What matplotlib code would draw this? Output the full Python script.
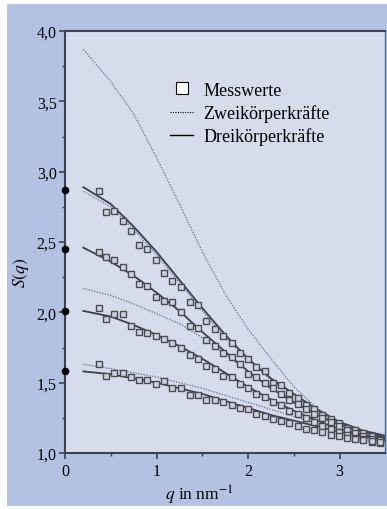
import matplotlib
matplotlib.use("Agg")
import matplotlib.pyplot as plt
from matplotlib.patches import Rectangle

plt.rcParams['font.family'] = ['Liberation Serif', 'DejaVu Serif']
plt.rcParams['mathtext.fontset'] = 'stix'

# measured points (q in nm^-1)
q_meas = [0.37, 0.45, 0.54, 0.63, 0.72, 0.81, 0.90, 0.99, 1.08, 1.17, 1.27, 1.36,
          1.45, 1.54, 1.64, 1.73, 1.82, 1.91, 2.00, 2.09, 2.18, 2.27, 2.36, 2.45,
          2.54, 2.63, 2.72, 2.81, 2.90, 2.99, 3.08, 3.17, 3.26, 3.35, 3.44]
s_meas_a = [2.86, 2.71, 2.72, 2.65, 2.58, 2.48, 2.45, 2.37, 2.28, 2.22, 2.18, 2.07,
            2.05, 1.94, 1.88, 1.83, 1.78, 1.71, 1.67, 1.61, 1.58, 1.50, 1.48, 1.43,
            1.39, 1.34, 1.31, 1.27, 1.24, 1.21, 1.18, 1.16, 1.14, 1.12, 1.10]
s_meas_b = [2.43, 2.39, 2.37, 2.32, 2.27, 2.20, 2.19, 2.11, 2.08, 2.07, 2.00, 1.90,
            1.89, 1.80, 1.76, 1.71, 1.68, 1.63, 1.56, 1.54, 1.50, 1.46, 1.42, 1.38,
            1.35, 1.31, 1.28, 1.25, 1.22, 1.19, 1.16, 1.14, 1.12, 1.10, 1.09]
s_meas_c = [2.03, 1.95, 1.99, 1.99, 1.90, 1.86, 1.85, 1.83, 1.81, 1.78, 1.75, 1.70,
            1.67, 1.62, 1.60, 1.55, 1.54, 1.49, 1.46, 1.42, 1.40, 1.36, 1.34, 1.30,
            1.28, 1.25, 1.22, 1.19, 1.17, 1.15, 1.13, 1.11, 1.10, 1.08, 1.07]
s_meas_d = [1.63, 1.55, 1.57, 1.57, 1.54, 1.52, 1.52, 1.49, 1.51, 1.46, 1.46, 1.41,
            1.41, 1.38, 1.38, 1.36, 1.34, 1.32, 1.31, 1.28, 1.26, 1.24, 1.23, 1.21,
            1.19, 1.17, 1.16, 1.15, 1.13, 1.12, 1.11, 1.10, 1.09, 1.085, 1.08]

# model curves
q_model = [0.2, 0.5, 0.75, 1.0, 1.25, 1.5, 1.75, 2.0, 2.25, 2.5, 2.75, 3.0, 3.25, 3.5]
zwei_1 = [3.87, 3.64, 3.41, 3.10, 2.77, 2.43, 2.13, 1.88, 1.67, 1.47, 1.32, 1.22, 1.16, 1.13]
zwei_2 = [2.86, 2.75, 2.59, 2.41, 2.21, 2.01, 1.82, 1.66, 1.52, 1.41, 1.30, 1.21, 1.15, 1.11]
zwei_3 = [2.17, 2.12, 2.06, 1.99, 1.92, 1.82, 1.70, 1.58, 1.47, 1.37, 1.28, 1.21, 1.15, 1.11]
zwei_4 = [1.63, 1.60, 1.57, 1.54, 1.50, 1.46, 1.41, 1.36, 1.31, 1.26, 1.21, 1.17, 1.13, 1.10]
drei_1 = [2.89, 2.77, 2.61, 2.43, 2.23, 2.03, 1.84, 1.67, 1.53, 1.42, 1.31, 1.22, 1.16, 1.12]
drei_2 = [2.46, 2.36, 2.26, 2.14, 2.01, 1.86, 1.72, 1.58, 1.46, 1.36, 1.27, 1.20, 1.15, 1.11]
drei_3 = [2.01, 1.97, 1.91, 1.84, 1.76, 1.67, 1.57, 1.47, 1.38, 1.30, 1.23, 1.17, 1.13, 1.10]
drei_4 = [1.58, 1.56, 1.53, 1.50, 1.46, 1.42, 1.37, 1.32, 1.27, 1.23, 1.19, 1.15, 1.12, 1.09]

# values at q = 0 marked on the axis
s_zero = [2.87, 2.45, 2.01, 1.58]

y_ticks = [1.0, 1.5, 2.0, 2.5, 3.0, 3.5, 4.0]
y_labels = ['1,0', '1,5', '2,0', '2,5', '3,0', '3,5', '4,0']
x_ticks = [0, 1, 2, 3]

fig = plt.figure(figsize=(3.87, 5.10), dpi=100, facecolor='white')
fig.patches.append(Rectangle((7 / 387, 3 / 510), 1, 502 / 510, transform=fig.transFigure,
                             facecolor='#b3c1e2', edgecolor='none', zorder=-5))

ax = fig.add_axes([65 / 387, 56 / 510, 1 - 65 / 387 - 0.004, 422 / 510])
ax.set_zorder(2)
ax.set_facecolor('#d7dcec')

dark = '#3b4152'
dotc = '#6f7f9e'
for z in [zwei_1, zwei_2, zwei_3, zwei_4]:
    ax.plot(q_model, z, linestyle=(0, (1, 1)), color=dotc, lw=1.0, zorder=2)
for d in [drei_1, drei_2, drei_3, drei_4]:
    ax.plot(q_model, d, '-', color=dark, lw=1.3, zorder=3)
for s in [s_meas_a, s_meas_b, s_meas_c, s_meas_d]:
    ax.plot(q_meas, s, 's', ms=4.0, mfc='#cfd1dc', mec='#4a4a55', mew=1.0, zorder=4)
ax.plot([0] * len(s_zero), s_zero, 'o', color='black', ms=4.5, zorder=5, clip_on=False)

# legend
hm, = ax.plot([], [], 's', ms=8, mfc='white', mec='black', mew=0.8)
hz, = ax.plot([], [], linestyle=(0, (1, 1.2)), color='black', lw=0.8)
hd, = ax.plot([], [], '-', color='black', lw=1.0)
ax.legend([hm, hz, hd], ['Messwerte', 'Zweikörperkräfte', 'Dreikörperkräfte'],
          loc='upper left', bbox_to_anchor=(0.305, 0.897), borderaxespad=0,
          frameon=False, fontsize=13, handlelength=1.3, handletextpad=0.55,
          labelspacing=0.3)

ax.set_xlim(0, 3.5)
ax.set_ylim(1.0, 4.0)
ax.set_yticks(y_ticks)
ax.set_yticklabels(y_labels, fontsize=11.5)
ax.set_yticks([1.25, 1.75, 2.25, 2.75, 3.25, 3.75], minor=True)
ax.set_xticks(x_ticks)
ax.set_xticklabels([str(t) for t in x_ticks], fontsize=11.5)
ax.set_xticks([0.5, 1.5, 2.5], minor=True)
ax.tick_params(which='major', direction='out', length=4, width=1.2, color=dark, pad=3)
ax.tick_params(which='minor', direction='out', length=2.5, width=1.0, color=dark)
ax.tick_params(axis='y', pad=2)

for side in ['left', 'bottom', 'top']:
    ax.spines[side].set_color(dark)
    ax.spines[side].set_linewidth(1.5)
ax.spines['right'].set_color('#5a6a8a')
ax.spines['right'].set_linewidth(1.0)

ax.set_ylabel(r'$S(q)$', fontsize=12.5)
ax.yaxis.set_label_coords(-0.107, 0.43)
ax.set_xlabel(r'$q$ in nm$^{-1}$', fontsize=12.5)
ax.xaxis.set_label_coords(0.42, -0.07)

fig.savefig('out.png', dpi=100, facecolor=fig.get_facecolor())
